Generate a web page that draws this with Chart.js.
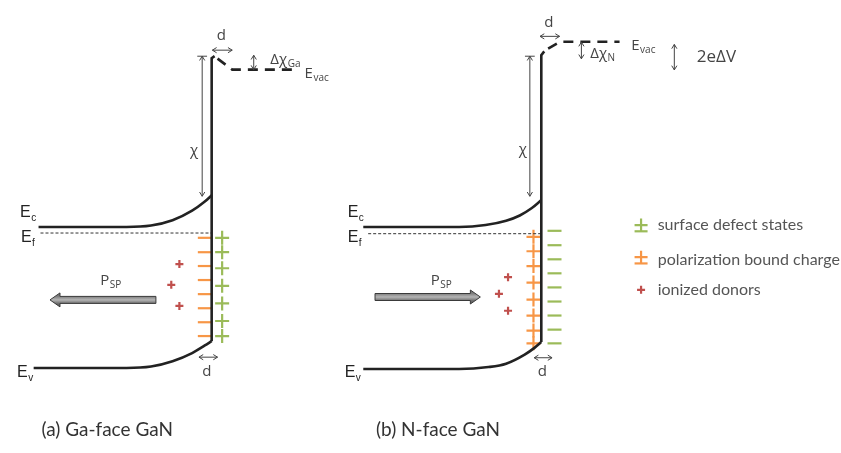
<!DOCTYPE html>
<html>
<head>
<meta charset="utf-8">
<script src="https://cdn.jsdelivr.net/npm/chart.js@4/dist/chart.umd.min.js"></script>
<style>
  html, body { margin: 0; padding: 0; background: #fff; }
  #wrap { width: 841px; height: 453px; position: relative; }
</style>
</head>
<body>
<div id="wrap"><canvas id="bands"></canvas></div>
<script>
// GaN band diagram - Ga-face vs N-face
// diagram units: x = position across the picture, y = energy (drawn downwards)

// (a) Ga-face
const ecA = [[30, 227], [120, 227], [145, 225.5], [167, 220], [187, 210], [200, 200.5], [207, 194]];
const evA = [[25, 374], [120, 374], [145, 372.5], [167, 367], [187, 358.5], [200, 350.5], [207, 346]];
const surfaceA = [[207, 346], [207, 51], [210, 49]];
const efA = [[32, 233.3], [207, 233.3]];
const vacA = [[213, 51.5], [228, 63], [293, 63]];
const polChargeA = [238.3, 253.3, 267.7, 282.3, 297, 311.7, 326.3, 340.7];   // orange "-"
const surfStatesA = [238.3, 253.3, 270, 288.3, 306.7, 325, 340.7];           // green "+"
const donorsA = [[174, 265.7], [165.7, 287.3], [174, 309.3]];

// (b) N-face
const ecB = [[362, 227], [460, 227], [487, 225], [508, 220.5], [522, 215], [534, 207.5], [544, 199]];
const evB = [[362, 375], [460, 375], [490, 373], [508, 369.5], [527, 360], [537, 353], [544, 347]];
const surfaceB = [[544, 347], [544, 48], [547, 44]];
const efB = [[367, 234], [544, 234]];
const vacB = [[551, 41], [563, 34], [624, 34]];
const polChargeB = [237.3, 252.3, 267.7, 285, 302.7, 319.3, 335, 348.3];      // orange "+"
const surfStatesB = [231, 246, 260.7, 275.3, 290, 304.7, 319.3, 334, 348.3]; // green "-"
const donorsB = [[510, 279.3], [500.7, 296.7], [510, 314.3]];

// dimension arrows [x1, y1, x2, y2]
const dimArrows = [
  [197.3, 49, 197.3, 195], [207.7, 42.7, 228, 42.7], [250, 48, 250, 63], [194, 362.7, 213, 362.7],
  [532.3, 49, 532.3, 195], [542.7, 28.3, 562.7, 28.3], [585, 34.3, 585, 51.7], [536.7, 363.3, 555, 363.3],
  [680, 36.7, 680, 63.3]
];
// spontaneous polarisation arrows [tail x, tip x, y]
const pspArrows = [[150, 41.7, 303], [374, 481.7, 300]];

// texts [main, subscript, x, y]
const bandLabels = [
  ['E', 'c', 11, 217], ['E', 'f', 12, 243], ['E', 'v', 8, 383],
  ['E', 'c', 346, 217], ['E', 'f', 346, 243], ['E', 'v', 343, 383]
];
const smallLabels = [
  ['Δχ', 'Ga', 267, 57], ['E', 'vac', 302, 72], ['Δχ', 'N', 594, 51], ['E', 'vac', 636, 43],
  ['P', 'SP', 93, 287.5], ['P', 'SP', 431, 287.5]
];
const centerLabels = [
  ['χ', 189, 148], ['d', 217, 27.5], ['d', 202, 378], ['χ', 525, 147], ['d', 551.7, 14], ['d', 545, 378]
];
const captions = [['(a) Ga-face GaN', 33, 439], ['(b) N-face GaN', 375, 439]];
const legendItems = ['surface defect states', 'polarization bound charge', 'ionized donors'];
const legendY = [225, 261, 292.5];

const GREEN = '#9bbb59', ORANGE = '#f79646', RED = '#c0504d', INK = '#222';

function pts(list) {
  return list.map(p => ({ x: p[0], y: p[1] }));
}

function column(x, ys) {
  return ys.map(y => ({ x: x, y: y }));
}

function bandLine(data, curved) {
  return {
    data: pts(data), showLine: true, pointRadius: 0, borderColor: INK, borderWidth: 2.6,
    cubicInterpolationMode: curved ? 'monotone' : 'default', tension: 0, clip: false
  };
}

function markers(data, style, radius, color) {
  return {
    data: data, showLine: false, pointStyle: style, pointRadius: radius,
    borderColor: color, backgroundColor: color, pointBorderWidth: 2.2, clip: false
  };
}

const datasets = [
  bandLine(ecA, true), bandLine(evA, true), bandLine(surfaceA, false),
  bandLine(ecB, true), bandLine(evB, true), bandLine(surfaceB, false),
  { data: pts(efA), showLine: true, pointRadius: 0, borderColor: '#333', borderWidth: 1, borderDash: [3, 2], clip: false },
  { data: pts(efB), showLine: true, pointRadius: 0, borderColor: '#333', borderWidth: 1, borderDash: [3, 2], clip: false },
  { data: pts(vacA), showLine: true, pointRadius: 0, borderColor: INK, borderWidth: 2.6, borderDash: [10, 7], clip: false },
  { data: pts(vacB), showLine: true, pointRadius: 0, borderColor: INK, borderWidth: 2.6, borderDash: [10, 7], clip: false },
  markers(column(200, polChargeA), 'line', 7, ORANGE),
  markers(column(217.7, surfStatesA), 'cross', 7, GREEN),
  markers(pts(donorsA), 'cross', 4, RED),
  markers(column(536, polChargeB), 'cross', 7, ORANGE),
  markers(column(557.5, surfStatesB), 'line', 7, GREEN),
  markers(pts(donorsB), 'cross', 4, RED),
  // legend symbols
  markers(column(646, [225]), 'cross', 6.5, GREEN),
  markers(column(646, [231.5]), 'line', 6.5, GREEN),
  markers(column(646, [258.5]), 'cross', 6.5, ORANGE),
  markers(column(646, [265]), 'line', 6.5, ORANGE),
  markers(column(646, [292.5]), 'cross', 4, RED)
];

const annotations = {
  id: 'annotations',
  afterDatasetsDraw(chart) {
    const ctx = chart.ctx;
    const sx = v => chart.scales.x.getPixelForValue(v);
    const sy = v => chart.scales.y.getPixelForValue(v);
    ctx.save();

    // thin dimension arrows
    ctx.strokeStyle = '#444';
    ctx.lineWidth = 1;
    dimArrows.forEach(a => {
      const x1 = sx(a[0]), y1 = sy(a[1]), x2 = sx(a[2]), y2 = sy(a[3]);
      ctx.beginPath();
      ctx.moveTo(x1, y1);
      ctx.lineTo(x2, y2);
      ctx.stroke();
      const ang = Math.atan2(y2 - y1, x2 - x1);
      [[x2, y2, ang], [x1, y1, ang + Math.PI]].forEach(h => {
        ctx.beginPath();
        ctx.moveTo(h[0] - 5 * Math.cos(h[2] - 0.55), h[1] - 5 * Math.sin(h[2] - 0.55));
        ctx.lineTo(h[0], h[1]);
        ctx.lineTo(h[0] - 5 * Math.cos(h[2] + 0.55), h[1] - 5 * Math.sin(h[2] + 0.55));
        ctx.stroke();
      });
    });
    // caps on the chi arrows
    [[197.3, 49], [532.3, 49]].forEach(c => {
      ctx.beginPath();
      ctx.moveTo(sx(c[0] - 5), sy(c[1]));
      ctx.lineTo(sx(c[0] + 5), sy(c[1]));
      ctx.stroke();
    });

    // block arrows for P_SP
    pspArrows.forEach(a => {
      const tail = sx(a[0]), tip = sx(a[1]), y = sy(a[2]);
      const dir = Math.sign(tip - tail);
      const base = tip - dir * 10;
      const g = ctx.createLinearGradient(0, y - 4, 0, y + 4);
      g.addColorStop(0, '#777');
      g.addColorStop(0.5, '#b5b5b5');
      g.addColorStop(1, '#666');
      ctx.beginPath();
      ctx.moveTo(tail, y - 3.5);
      ctx.lineTo(base, y - 3.5);
      ctx.lineTo(base, y - 7);
      ctx.lineTo(tip, y);
      ctx.lineTo(base, y + 7);
      ctx.lineTo(base, y + 3.5);
      ctx.lineTo(tail, y + 3.5);
      ctx.closePath();
      ctx.fillStyle = g;
      ctx.fill();
      ctx.strokeStyle = '#3a3a3a';
      ctx.lineWidth = 1;
      ctx.stroke();
    });

    // texts
    ctx.textBaseline = 'alphabetic';
    ctx.textAlign = 'left';
    ctx.fillStyle = '#222';
    bandLabels.forEach(t => {
      ctx.font = '16px "Liberation Sans"';
      ctx.fillText(t[0], sx(t[2]), sy(t[3]));
      const w = ctx.measureText(t[0]).width;
      ctx.font = '10px "Liberation Sans"';
      ctx.fillText(t[1], sx(t[2]) + w + 0.5, sy(t[3]) + 4);
    });
    ctx.fillStyle = '#444';
    smallLabels.forEach(t => {
      ctx.font = '15px "Open Sans"';
      ctx.fillText(t[0], sx(t[2]), sy(t[3]));
      const w = ctx.measureText(t[0]).width;
      ctx.font = '10px "Open Sans"';
      ctx.fillText(t[1], sx(t[2]) + w + 0.5, sy(t[3]) + 3);
    });
    ctx.textAlign = 'center';
    ctx.textBaseline = 'middle';
    ctx.font = '15px "Open Sans"';
    centerLabels.forEach(t => ctx.fillText(t[0], sx(t[1]), sy(t[2])));

    ctx.textAlign = 'left';
    ctx.font = '17px "Open Sans"';
    ctx.fillText('2eΔV', sx(703), sy(49.5));

    ctx.fillStyle = '#333';
    ctx.font = '19px Lato';
    captions.forEach(c => ctx.fillText(c[0], sx(c[1]), sy(c[2])));

    ctx.fillStyle = '#555';
    ctx.font = '16px Lato';
    legendItems.forEach((txt, i) => ctx.fillText(txt, sx(663), sy(legendY[i])));

    ctx.restore();
  }
};

new Chart(document.getElementById('bands'), {
  type: 'scatter',
  data: { datasets: datasets },
  options: {
    responsive: true,
    maintainAspectRatio: false,
    animation: false,
    layout: { padding: 0 },
    plugins: { legend: { display: false }, tooltip: { enabled: false } },
    scales: {
      x: { type: 'linear', min: 0, max: 841, display: false },
      y: { type: 'linear', min: 0, max: 453, reverse: true, display: false }
    }
  },
  plugins: [annotations]
});
</script>
</body>
</html>
